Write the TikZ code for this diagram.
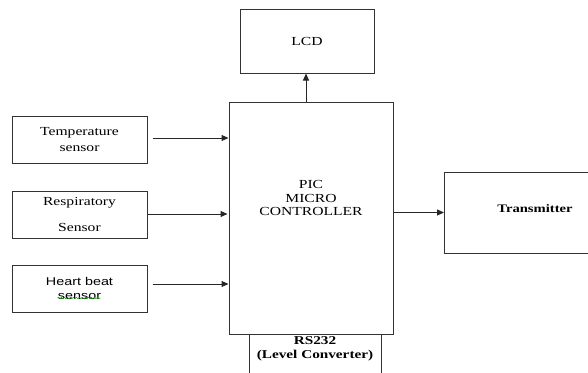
\documentclass[tikz,border=0pt]{standalone}
\usepackage{fontspec}
\setmainfont{Liberation Serif}[FakeStretch=1.27]
\newfontfamily\hbfont{Liberation Sans}[FakeStretch=1.27]
\usetikzlibrary{arrows.meta,decorations.pathmorphing}
\begin{document}
\begin{tikzpicture}[x=1pt,y=-1pt,
  box/.style={draw=black!80, line width=1pt, rectangle, inner sep=0pt},
  frame/.style={draw=black!80, line width=1pt},
  arr/.style={draw=black!85, line width=1pt, -{Triangle[length=7pt,width=6pt]}},
  txt/.style={font=\fontsize{12.3}{13.5}\selectfont, align=center, inner sep=0pt}]
\useasboundingbox (0,0) rectangle (588,372);
% LCD
\node[box, minimum width=134pt, minimum height=64pt, txt] (lcd) at (307,41) {LCD};
% PIC
\node[box, minimum width=164pt, minimum height=232pt] (pic) at (311,218) {};
\node[txt] (pict) at (311,198) {PIC\\MICRO\\CONTROLLER};
% sensors
\node[box, minimum width=135pt, minimum height=47pt, txt, font=\fontsize{12.3}{16}\selectfont] (temp) at (79.5,139.5) {Temperature\\sensor};
\node[box, minimum width=135pt, minimum height=47pt, txt] (resp) at (79.5,214.5) {Respiratory\\[12.5pt]Sensor};
\node[box, minimum width=135pt, minimum height=47pt, txt, font=\hbfont\fontsize{11.3}{14}\selectfont] (heart) at (79.5,288.5) {Heart beat\\sensor};
\draw[green!60!black, line width=0.5pt, decorate, decoration={snake,amplitude=0.6pt,segment length=3pt}]
  ([xshift=-22pt,yshift=-9.5pt]heart.center) -- ([xshift=21pt,yshift=-9.5pt]heart.center);
% transmitter
\coordinate (txw) at (444,212.5);
\coordinate (txt1) at (444,172);
\coordinate (txb1) at (444,253);
\draw[frame] (588,172) -- (txt1) -- (txb1) -- (588,253);
\node[txt, font=\bfseries\fontsize{11.5}{13}\selectfont] (tx) at (535,209) {Transmitter};
% RS232
\coordinate (rsl) at (249,334);
\coordinate (rsr) at (381,334);
\draw[frame] (rsl) -- ++(0,40);
\draw[frame] (rsr) -- ++(0,40);
\node[txt, font=\bfseries\fontsize{12}{14}\selectfont] (rs) at (315,349) {RS232\\(Level Converter)};
% arrows
\draw[arr] ([xshift=5pt,yshift=1.5pt]temp.east) coordinate (a1) -- (a1 -| pic.west);
\draw[arr] ([yshift=0.5pt]resp.east) coordinate (a2) -- ([xshift=-1pt]a2 -| pic.west);
\draw[arr] ([xshift=5pt,yshift=4.5pt]heart.east) coordinate (a3) -- (a3 -| pic.west);
\draw[arr] ([xshift=-1pt]lcd.south |- pic.north) -- ([xshift=-1pt]lcd.south);
\draw[arr] (txw -| pic.east) -- (txw);
\end{tikzpicture}
\end{document}
